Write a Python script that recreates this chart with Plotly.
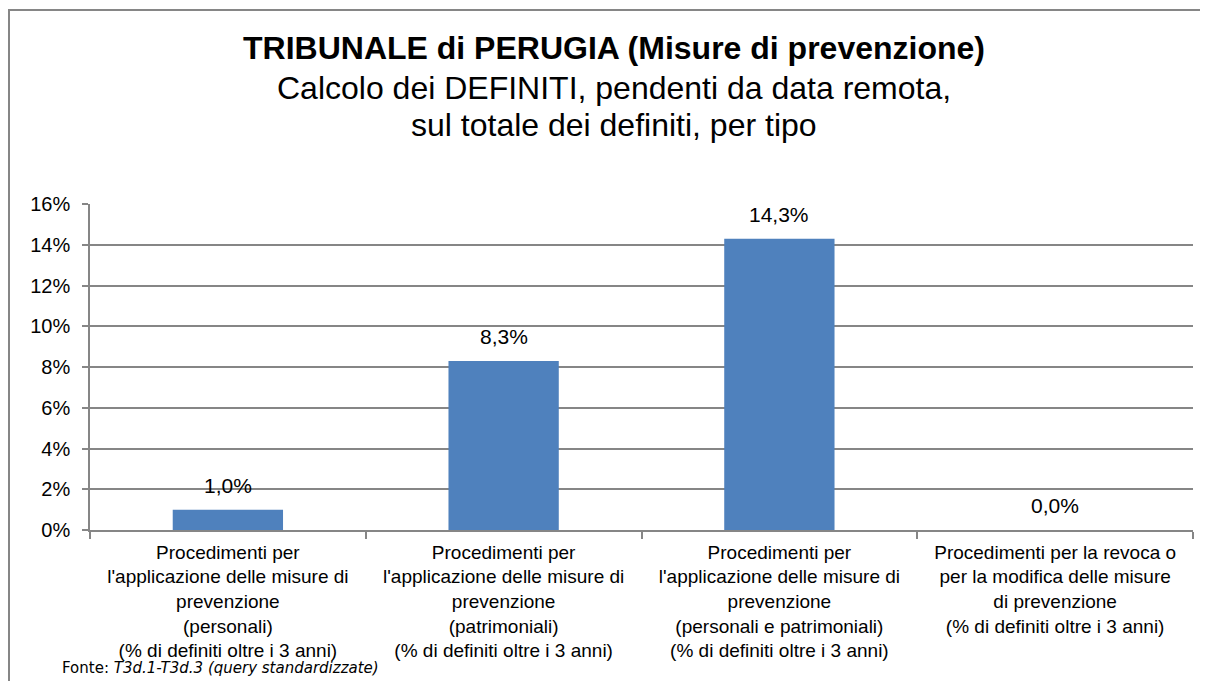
import plotly.graph_objects as go

categories = [
    "Procedimenti per<br>l'applicazione delle misure di<br>prevenzione<br>(personali)<br>(% di definiti oltre i 3 anni)",
    "Procedimenti per<br>l'applicazione delle misure di<br>prevenzione<br>(patrimoniali)<br>(% di definiti oltre i 3 anni)",
    "Procedimenti per<br>l'applicazione delle misure di<br>prevenzione<br>(personali e patrimoniali)<br>(% di definiti oltre i 3 anni)",
    "Procedimenti per la revoca o<br>per la modifica delle misure<br>di prevenzione<br>(% di definiti oltre i 3 anni)",
]
values = [0.010, 0.083, 0.143, 0.000]
tick_vals = [0, 0.02, 0.04, 0.06, 0.08, 0.10, 0.12, 0.14, 0.16]

OFF = 8  # page body margin
W, H = 1192, 673
L, R, T, B = 82, 7, 196, 151
pw, ph = W - L - R, H - T - B


def px(X):
    return (X - OFF - L) / pw


def py(Y):
    return (H - B - (Y - OFF)) / ph


font = "Liberation Sans, Arial"

fig = go.Figure()
fig.add_trace(go.Bar(
    x=categories, y=values,
    marker=dict(color="#4F81BD", line=dict(width=0)),
    width=0.4,
    hoverinfo="skip",
))

for c, v in zip(categories, values):
    fig.add_annotation(
        x=c, y=v, text=f"{v*100:.1f}%".replace(".", ","),
        showarrow=False, yanchor="bottom", yshift=11,
        font=dict(family=font, size=21, color="#000000"),
    )

fig.add_annotation(
    xref="paper", yref="paper", x=px(614), y=py(48),
    text="<b>TRIBUNALE di PERUGIA (Misure di prevenzione)</b>",
    showarrow=False, xanchor="center", yanchor="middle",
    font=dict(family=font, size=32, color="#000000"),
)
fig.add_annotation(
    xref="paper", yref="paper", x=px(614), y=py(88),
    text="Calcolo dei DEFINITI, pendenti da data remota,",
    showarrow=False, xanchor="center", yanchor="middle",
    font=dict(family=font, size=32, color="#000000"),
)
fig.add_annotation(
    xref="paper", yref="paper", x=px(614), y=py(125),
    text="sul totale dei definiti, per tipo",
    showarrow=False, xanchor="center", yanchor="middle",
    font=dict(family=font, size=32, color="#000000"),
)
fig.add_annotation(
    xref="paper", yref="paper", x=px(60), y=py(668),
    text="Fonte: <i>T3d.1-T3d.3 (query standardizzate)</i>",
    showarrow=False, xanchor="left", yanchor="middle",
    font=dict(family="DejaVu Sans, Verdana", size=15, color="#000000"),
)

fig.add_shape(
    type="rect", xref="paper", yref="paper",
    x0=px(9), x1=px(1260),
    y0=py(720), y1=py(10),
    line=dict(color="#868686", width=2), fillcolor="rgba(0,0,0,0)", layer="below",
)

fig.update_layout(
    width=W, height=H,
    margin=dict(l=L, r=R, t=T, b=B, pad=0),
    paper_bgcolor="white", plot_bgcolor="white",
    showlegend=False,
    separators=",.",
    font=dict(family=font, size=19, color="#000000"),
    bargap=0.6,
)
fig.update_xaxes(
    type="category", tickson="boundaries", ticks="outside", ticklen=7,
    tickcolor="#868686", tickwidth=1.5,
    showline=True, linecolor="#868686", linewidth=1.5,
    showgrid=False, tickangle=0,
    ticklabelstandoff=4,
    tickfont=dict(family=font, size=19, color="#000000"),
)
fig.update_yaxes(
    range=[0, 0.16], tickvals=tick_vals,
    ticktext=[f"{int(round(t*100))}%" for t in tick_vals],
    ticks="outside", ticklen=6, tickcolor="#868686", tickwidth=1.5,
    showline=True, linecolor="#868686", linewidth=1.5,
    showgrid=True, gridcolor="#868686", gridwidth=1.5,
    zeroline=False,
    ticklabelstandoff=8,
    tickfont=dict(family=font, size=20, color="#000000"),
)

fig.write_html("out.html", config={"displayModeBar": False})
